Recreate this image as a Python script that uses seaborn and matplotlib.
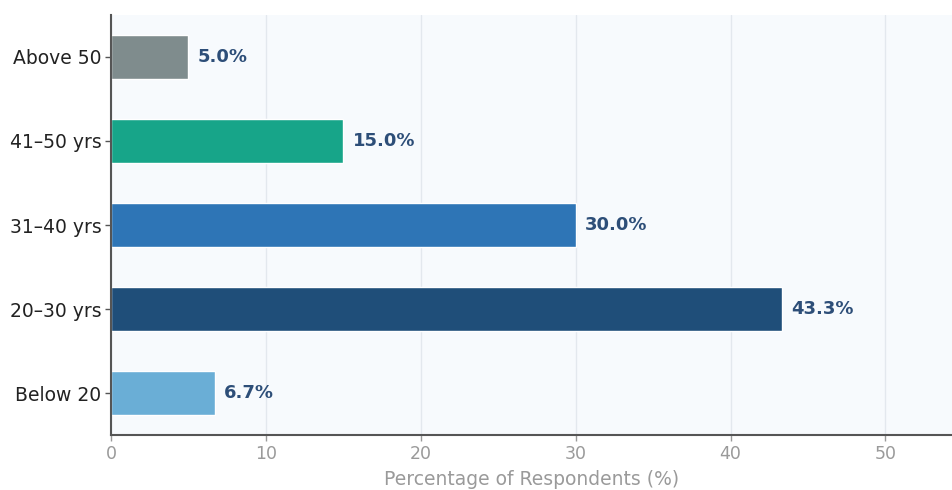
import matplotlib
matplotlib.use("Agg")
import matplotlib.pyplot as plt
import seaborn as sns
import pandas as pd

age_groups = ["Above 50", "41–50 yrs", "31–40 yrs", "20–30 yrs", "Below 20"]
percentages = [5.0, 15.0, 30.0, 43.3, 6.7]
bar_colors = ["#7f8c8d", "#17a589", "#2e75b6", "#1f4e79", "#6aaed6"]
x_ticks = [0, 10, 20, 30, 40, 50]

sns.set_theme(style="white")
plt.rcParams["font.family"] = ["DejaVu Sans"]

df = pd.DataFrame({"group": age_groups, "pct": percentages})

fig = plt.figure(figsize=(9.52, 4.9), dpi=100)
ax = fig.add_axes([111 / 952, 55 / 490, 1 - 111 / 952, 420 / 490])
ax.set_facecolor("#f7fafd")

sns.barplot(data=df, x="pct", y="group", hue="group", palette=bar_colors,
            order=age_groups, orient="h", width=0.53, legend=False, ax=ax,
            saturation=1)

for i, v in enumerate(percentages):
    ax.text(v + 0.6, i, f"{v:.1f}%", va="center", ha="left",
            fontsize=13, fontweight="bold", color="#2d4e78")

ax.set_xlim(0, 54.3)
ax.set_ylim(4.5, -0.5)
ax.set_xticks(x_ticks)
ax.set_xticklabels([str(t) for t in x_ticks])
ax.xaxis.grid(True, color="#e3e8ee", linewidth=1)
ax.set_axisbelow(True)

ax.set_ylabel("")
ax.set_xlabel("Percentage of Respondents (%)", fontsize=13.5, color="#9a9a9a", labelpad=5)
ax.tick_params(axis="x", colors="#9a9a9a", labelsize=12.5, length=4, width=1,
               direction="out", pad=3)
ax.tick_params(axis="y", colors="#555555", labelcolor="#222222", labelsize=13.5,
               length=4, width=1, direction="out", pad=3)
ax.xaxis.set_tick_params(bottom=True)
ax.yaxis.set_tick_params(left=True)

for side in ["top", "right"]:
    ax.spines[side].set_visible(False)
for side in ["left", "bottom"]:
    ax.spines[side].set_color("#555555")
    ax.spines[side].set_linewidth(1.5)

fig.savefig("out.png", dpi=100)
